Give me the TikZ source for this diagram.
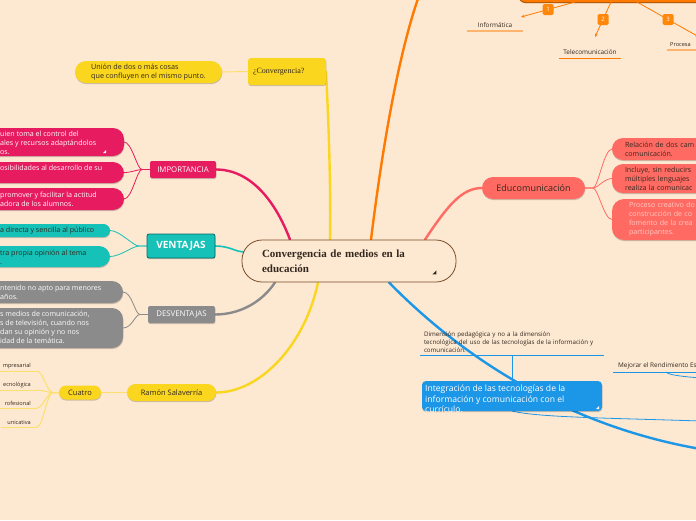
\documentclass[tikz,border=0pt]{standalone}
\usepackage{fontspec}
\setmainfont{Open Sans}
\newfontfamily\mapserif{Liberation Serif}
\usetikzlibrary{arrows.meta,calc,shadows}
\definecolor{paper}{RGB}{253,232,210}
\definecolor{ink}{RGB}{51,40,30}
\definecolor{brownline}{RGB}{122,78,38}
\definecolor{mmyellow}{RGB}{250,214,30}
\definecolor{palyellow}{RGB}{251,224,110}
\definecolor{crimson}{RGB}{230,27,96}
\definecolor{mmteal}{RGB}{22,193,183}
\definecolor{tealdark}{RGB}{12,105,100}
\definecolor{mmgray}{RGB}{139,139,139}
\definecolor{mmorange}{RGB}{255,122,0}
\definecolor{badgeorange}{RGB}{255,135,10}
\definecolor{lightorange}{RGB}{253,180,110}
\definecolor{salmon}{RGB}{255,107,99}
\definecolor{salmontext}{RGB}{255,200,194}
\definecolor{mmblue}{RGB}{28,150,230}
\pgfdeclarelayer{back}
\pgfdeclarelayer{links}
\pgfsetlayers{back,links,main}
\tikzset{softshadow/.style={general shadow={fill=black,opacity=0.2,shadow xshift=0.3pt,shadow yshift=-1.1pt}},
         box/.style={inner sep=0pt,outer sep=0pt,align=left,softshadow},
         topic/.style={box,minimum height=17pt,rounded corners=2pt,font=\fontsize{7.8}{9}\selectfont},
         pill/.style={box,rounded corners=#1},
         pill/.default=11pt,
         leafline/.style={font=\fontsize{7.1}{9}\selectfont,align=left,inner sep=0pt,anchor=west},
         branch/.style={line width=2.4pt,line cap=round},
         twig/.style={line width=0.8pt},
         tag/.style={anchor=south,inner xsep=4pt,inner ysep=3pt,font=\fontsize{6.4}{8}\selectfont,text=ink,align=left},
         smalltag/.style={tag,anchor=south east,inner xsep=6pt,inner ysep=2pt,font=\fontsize{5.6}{7}\selectfont},
         badge/.style={fill=badgeorange,rounded corners=1.5pt,minimum size=11pt,inner sep=0pt,text=white,font=\fontsize{6}{7}\selectfont},
         numarrow/.style={draw=mmorange,line width=0.8pt,-{Stealth[length=3.5pt,width=3pt]}}}

\begin{document}
\begin{tikzpicture}[x=1pt,y=-1pt]
  \useasboundingbox (0,0) rectangle (696,520);
  \begin{pgfonlayer}{back}
    \fill[paper] (0,0) rectangle (696,520);
  \end{pgfonlayer}

  % centre
  \node[draw=brownline,line width=0.8pt,fill=paper,rounded corners=20pt,minimum width=214pt,minimum height=42pt,
        text width=174pt,inner xsep=20pt,align=left,text=ink,
        font=\mapserif\bfseries\fontsize{11}{15}\selectfont] (center) at (349,261) {Convergencia de medios en la\\educación};
  \fill[ink] ($(center.south east)+(-20,-8)$) -- ++(-4,0) -- ++(4,-4) -- cycle;

  % definicion
  \node[box,fill=mmyellow,rounded corners=3pt,minimum height=27pt,text width=68pt,inner xsep=5pt,text=ink,
        font=\mapserif\fontsize{8}{9}\selectfont] (conv) at (287,71.5) {¿Convergencia?};
  \node[pill,fill=mmyellow,minimum width=147pt,minimum height=22pt,text=ink,
        font=\fontsize{7.2}{8.8}\selectfont] (union) at (148.5,72) {Unión de dos o más cosas\\que confluyen en el mismo punto.};

  % importancia
  \node[topic,fill=crimson,minimum width=66pt,text=white] (imp) at (183,169.5) {IMPORTANCIA};
  \node[pill,fill=crimson,minimum width=170pt,minimum height=28pt,anchor=east] (imp1) at (124,142) {};
  \node[pill,fill=crimson,minimum width=170pt,minimum height=21pt,anchor=east] (imp2) at (124,172.5) {};
  \node[pill,fill=crimson,minimum width=170pt,minimum height=22pt,anchor=east] (imp3) at (124,199) {};
  \node[leafline,text=white] (imp1t) at (0,143) {uien toma el control del\\ales y recursos adaptándolos\\os.};
  \node[leafline,text=white] (imp2t) at (0,168) {osibilidades al desarrollo de su};
  \node[leafline,text=white] (imp3t) at (0,199.5) {promover y facilitar la actitud\\adora de los alumnos.};
  \fill[white] ($(imp1.south east)+(-18,-3)$) -- ++(-3,0) -- ++(3,-3) -- cycle;

  % ventajas
  \node[box,fill=mmteal,draw=tealdark,line width=0.8pt,rounded corners=2pt,minimum width=68pt,minimum height=24pt,
        text=white,font=\bfseries\fontsize{10}{12}\selectfont] (vent) at (181,246) {VENTAJAS};
  \node[pill=6.5pt,fill=mmteal,minimum width=150pt,minimum height=13pt,anchor=east] (vent1) at (110,230.5) {};
  \node[pill,fill=mmteal,minimum width=150pt,minimum height=21pt,anchor=east] (vent2) at (110,256.5) {};
  \node[leafline,text=ink] (vent1t) at (0,231) {a directa y sencilla al público};
  \node[leafline,text=ink] (vent2t) at (0,257.5) {tra propia opinión al tema\\.};

  % desventajas
  \node[topic,fill=mmgray,minimum width=67pt,text=white] (desv) at (181.5,314.5) {DESVENTAJAS};
  \node[pill,fill=mmgray,minimum width=170pt,minimum height=22pt,anchor=east] (desv1) at (123,292) {};
  \node[pill,fill=mmgray,minimum width=170pt,minimum height=40pt,anchor=east] (desv2) at (123,328) {};
  \node[leafline,text=white] (desv1t) at (0,292.5) {ntenido no apto para menores\\años.};
  \node[leafline,text=white] (desv2t) at (0,327.5) {s medios de comunicación,\\s de televisión, cuando nos\\dan su opinión y no nos\\idad de la temática.};

  % salaverria
  \node[pill=8.5pt,fill=mmyellow,minimum width=89pt,minimum height=17pt,text=ink,
        font=\fontsize{7.5}{9}\selectfont] (ramon) at (171.5,392.5) {Ramón Salaverría};
  \node[pill=7pt,fill=mmyellow,minimum width=42pt,minimum height=14pt,text=ink,
        font=\fontsize{7.5}{9}\selectfont] (cuatro) at (80,392.5) {Cuatro};
  \node[smalltag] (emp) at (37,371) {mpresarial};
  \node[smalltag] (tec) at (37,390) {ecnológica};
  \node[smalltag] (pro) at (37,408) {rofesional};
  \node[smalltag] (com) at (37,427) {unicativa};

  % tecnologias
  \node[box,fill=mmorange,rounded corners=8pt,minimum width=210pt,minimum height=44pt,
        general shadow={fill=mmorange!70!black,shadow yshift=-1.2pt}] (proc) at (623,-20) {};
  \node[tag,minimum width=56pt] (inf) at (495,31) {Informática};
  \node[tag,minimum width=62pt] (tele) at (590,58) {Telecomunicación};
  \node[tag,anchor=south west,inner xsep=3pt,font=\fontsize{5.6}{8}\selectfont] (procl) at (667,50) {Procesa};
  \coordinate (tip1) at (521,17);
  \coordinate (tip2) at (595,37);
  \coordinate (tip3) at (699,37);

  % educomunicacion
  \node[pill,fill=salmon,minimum width=103pt,minimum height=22pt,text=ink,
        font=\fontsize{9}{11}\selectfont] (edu) at (533.5,188) {Educomunicación};
  \node[pill,fill=salmon,anchor=west,text width=110pt,inner xsep=13pt,minimum height=22pt,text=ink,
        font=\fontsize{7.1}{9}\selectfont] (edu1) at (612,149) {Relación de dos cam\\comunicación.};
  \node[pill,fill=salmon,anchor=west,text width=110pt,inner xsep=13pt,minimum height=29pt,text=ink,
        font=\fontsize{7.1}{9}\selectfont] (edu2) at (612,178.5) {Incluye, sin reducirs\\múltiples lenguajes\\realiza la comunicac};
  \node[pill=12pt,fill=salmon,anchor=west,text width=110pt,inner xsep=17pt,minimum height=41pt,text=salmontext,
        font=\fontsize{7.1}{9}\selectfont] (edu3) at (612,219.5) {Proceso creativo do\\construcción de co\\fomento de la crea\\participantes.};

  % integracion
  \node[box,fill=mmblue,rounded corners=4pt,minimum width=180pt,minimum height=30pt] (integ) at (512,396) {};
  \begin{scope}
    \clip[rounded corners=4pt] (integ.south west) rectangle (integ.north east);
    \node[anchor=north west,inner sep=0pt,align=left,text=white,
          font=\fontsize{8.6}{10.5}\selectfont] (integt) at (425,385) {Integración de las tecnologías de la\\información y comunicación con el\\currículo.};
  \end{scope}
  \fill[white] ($(integ.south east)+(-3,-2)$) -- ++(-3,0) -- ++(3,-3) -- cycle;
  \node[tag,minimum width=184pt,text width=176pt,inner xsep=4pt,inner ysep=2.5pt,font=\fontsize{6.2}{7.8}\selectfont] (dim) at (512,355)
       {Dimensión pedagógica y no a la dimensión\\tecnológica del uso de las tecnologías de la información y\\comunicación.};
  \node[tag,anchor=south west,inner xsep=5pt] (mej) at (613,372) {Mejorar el Rendimiento Es};
  \coordinate (blueEnd) at (720,452);
  \coordinate (integEnd) at (730,422);
  \coordinate (mejEnd) at (730,379);

  \begin{pgfonlayer}{links}
    % ramas principales
    \draw[branch,draw=crimson] ($(center.north)+(-59,0)$) .. controls (275,200) and (250,169.5) .. (imp.east);
    \draw[branch,draw=mmyellow] ($(center.north)+(-19,0)$) .. controls (331,180) and (328,110) .. (conv.east);
    \draw[branch,draw=mmorange] ($(center.north)+(22,0)$) .. controls (382,150) and (400,40) .. (425,-20) -- (proc.west);
    \draw[branch,draw=salmon] ($(center.north)+(76,0)$) .. controls (448,205) and (462,188) .. (edu.west);
    \draw[branch,draw=mmteal,line width=1.6pt] ($(center.west)+(2,-9)$) .. controls (236,252) and (230,246) .. (vent.east);
    \draw[branch,draw=mmgray] ($(center.south)+(-74,0)$) .. controls (262,302) and (240,314.5) .. (desv.east);
    \draw[branch,draw=mmyellow] ($(center.south)+(-31,0)$) .. controls (305,345) and (260,392.5) .. (ramon.east);
    \draw[branch,draw=mmblue] ($(center.south)+(40,0)$) .. controls (450,345) and (560,430) .. (blueEnd);
    % ramitas
    \draw[twig,draw=palyellow,line width=1pt] (union.east) -- (conv.west);
    \foreach \p in {imp1,imp2,imp3}
      \draw[twig,draw=crimson] (imp.west) -- ++(-8,0) .. controls +(-5,0) and +(8,0) .. (\p.east);
    \foreach \p in {vent1,vent2}
      \draw[twig,draw=mmteal] (vent.west) -- ++(-8,0) .. controls +(-6,0) and +(10,0) .. (\p.east);
    \foreach \p in {desv1,desv2}
      \draw[twig,draw=mmgray] (desv.west) -- ++(-8,0) .. controls +(-5,0) and +(9,0) .. (\p.east);
    \foreach \p in {edu1,edu2,edu3}
      \draw[twig,draw=salmon] (edu.east) -- ++(8,0) .. controls +(5,0) and +(-8,0) .. (\p.west);
    \draw[twig,draw=palyellow,line width=1.3pt] (cuatro.east) -- (ramon.west);
    \foreach \p in {emp,tec,pro,com}{
      \draw[twig,draw=palyellow,line width=1pt] (cuatro.west) -- ++(-6,0) .. controls +(-6,0) and +(6,0) .. (\p.south east);
      \draw[twig,draw=palyellow,line width=1pt] (\p.south west) -- (\p.south east);
    }
    \draw[twig,draw=lightorange,line width=1.2pt] (inf.south west) -- (inf.south east);
    \draw[twig,draw=mmorange] (tele.south west) -- (tele.south east);
    \draw[twig,draw=lightorange,line width=1.2pt] (procl.south west) -- ++(40,0);
    \draw[twig,draw=mmblue] (dim.south west) -- (dim.south east);
    \draw[twig,draw=mmblue] (dim.south) -- (integ.north);
    \draw[twig,draw=mmblue] (integ.south) .. controls (540,418) and (620,418) .. (integEnd);
    \draw[twig,draw=mmblue] (mej.south west) -- (mej.south east);
    \draw[twig,draw=mmblue] ($(mej.south west)+(53,0)$) .. controls +(3,5) and +(-15,0) .. (mejEnd);
  \end{pgfonlayer}

  % flechas numeradas
  \draw[numarrow] ($(proc.south west)+(57,0)$) -- node[badge] (b1) {1} (tip1);
  \draw[numarrow] ($(proc.south west)+(93,0)$) -- node[badge] (b2) {2} (tip2);
  \draw[numarrow] ($(proc.south west)+(119,0)$) -- node[badge] (b3) {3} (tip3);
\end{tikzpicture}
\end{document}
